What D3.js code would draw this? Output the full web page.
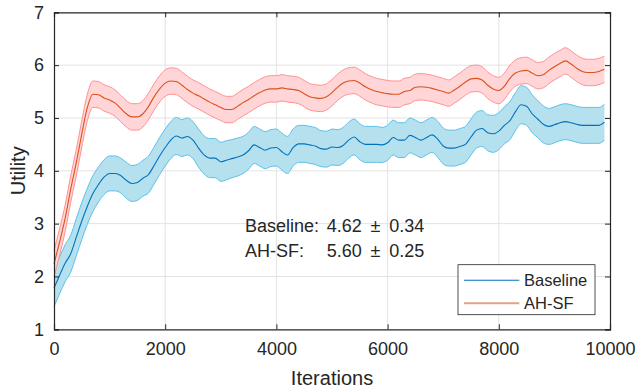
<!DOCTYPE html>
<html>
<head>
<meta charset="utf-8">
<script src="https://cdn.jsdelivr.net/npm/d3@7"></script>
<style>
  body { margin: 0; background: #fff; }
  svg text { font-family: "Liberation Sans", Arial, sans-serif; fill: #262626; }
</style>
</head>
<body>
<div id="chart"></div>
<script>
// iterations sampled every 100 steps
var iterations = d3.range(0, 10000, 100);

// Baseline mean / std
var baselineMean = [
  1.78, 2.02, 2.25, 2.43, 2.74, 3.05, 3.33, 3.57, 3.74, 3.88,
  3.95, 3.95, 3.91, 3.82, 3.76, 3.78, 3.86, 3.93, 4.10, 4.28,
  4.44, 4.58, 4.66, 4.62, 4.65, 4.58, 4.43, 4.30, 4.24, 4.24,
  4.17, 4.20, 4.23, 4.26, 4.30, 4.38, 4.49, 4.44, 4.39, 4.43,
  4.44, 4.36, 4.30, 4.44, 4.51, 4.51, 4.49, 4.47, 4.42, 4.41,
  4.45, 4.44, 4.48, 4.58, 4.64, 4.55, 4.50, 4.50, 4.50, 4.49,
  4.53, 4.63, 4.58, 4.58, 4.67, 4.63, 4.58, 4.63, 4.68, 4.60,
  4.47, 4.43, 4.43, 4.46, 4.50, 4.64, 4.77, 4.80, 4.72, 4.70,
  4.75, 4.86, 4.95, 5.12, 5.25, 5.22, 5.08, 4.98, 4.88, 4.84,
  4.87, 4.91, 4.93, 4.91, 4.88, 4.86, 4.86, 4.86, 4.86, 4.92
];
var baselineStd = [
  0.35, 0.35, 0.35, 0.35, 0.35, 0.35, 0.34, 0.34, 0.33, 0.33,
  0.33, 0.33, 0.33, 0.34, 0.34, 0.34, 0.34, 0.35, 0.35, 0.35,
  0.35, 0.35, 0.35, 0.35, 0.35, 0.35, 0.36, 0.36, 0.37, 0.37,
  0.37, 0.37, 0.36, 0.36, 0.35, 0.35, 0.35, 0.35, 0.35, 0.35,
  0.35, 0.35, 0.35, 0.35, 0.35, 0.35, 0.35, 0.35, 0.34, 0.34,
  0.34, 0.34, 0.34, 0.34, 0.34, 0.34, 0.34, 0.34, 0.34, 0.33,
  0.33, 0.33, 0.33, 0.33, 0.33, 0.33, 0.33, 0.33, 0.33, 0.34,
  0.34, 0.34, 0.34, 0.34, 0.34, 0.34, 0.34, 0.34, 0.34, 0.35,
  0.35, 0.35, 0.36, 0.36, 0.36, 0.36, 0.36, 0.35, 0.35, 0.34,
  0.34, 0.34, 0.34, 0.34, 0.34, 0.34, 0.34, 0.34, 0.34, 0.34
];

// AH-SF mean / std
var ahsfMean = [
  2.24, 2.65, 3.10, 3.65, 4.15, 4.70, 5.20, 5.45, 5.44, 5.38,
  5.34, 5.28, 5.18, 5.08, 5.02, 5.02, 5.08, 5.22, 5.40, 5.55,
  5.66, 5.70, 5.69, 5.62, 5.54, 5.47, 5.42, 5.36, 5.30, 5.25,
  5.20, 5.16, 5.16, 5.22, 5.29, 5.35, 5.42, 5.48, 5.53, 5.55,
  5.55, 5.57, 5.55, 5.54, 5.52, 5.46, 5.40, 5.38, 5.37, 5.40,
  5.48, 5.58, 5.66, 5.70, 5.71, 5.66, 5.59, 5.54, 5.50, 5.48,
  5.46, 5.45, 5.45, 5.50, 5.52, 5.58, 5.59, 5.58, 5.56, 5.53,
  5.50, 5.47, 5.53, 5.60, 5.68, 5.74, 5.75, 5.72, 5.62, 5.55,
  5.52, 5.60, 5.75, 5.85, 5.89, 5.90, 5.85, 5.80, 5.82, 5.90,
  5.97, 6.03, 6.08, 6.02, 5.94, 5.88, 5.86, 5.86, 5.88, 5.92
];
var ahsfStd = iterations.map(function () { return 0.25; });

var seriesNames = ["Baseline", "AH-SF"];
var xTicks = [0, 2000, 4000, 6000, 8000, 10000];
var yTicks = [1, 2, 3, 4, 5, 6, 7];
var summary = [
  { label: "Baseline:", mean: "4.62", std: "0.34" },
  { label: "AH-SF:", mean: "5.60", std: "0.25" }
];

var width = 636,
  height = 390,
  margin = { top: 12.3, right: 26, bottom: 60.7, left: 54 };
var plotW = width - margin.left - margin.right,
  plotH = height - margin.top - margin.bottom;

var x = d3.scaleLinear().domain([0, 10000]).range([0, plotW]);
var y = d3.scaleLinear().domain([1, 7]).range([plotH, 0]);

var svg = d3.select("#chart").append("svg")
  .attr("width", width)
  .attr("height", height);

var g = svg.append("g")
  .attr("transform", "translate(" + margin.left + "," + margin.top + ")");

// grid
g.append("g").selectAll("line").data(xTicks.slice(1, -1)).enter().append("line")
  .attr("x1", d => x(d)).attr("x2", d => x(d))
  .attr("y1", 0).attr("y2", plotH)
  .attr("stroke", "#e3e3e3");
g.append("g").selectAll("line").data(yTicks.slice(1, -1)).enter().append("line")
  .attr("y1", d => y(d)).attr("y2", d => y(d))
  .attr("x1", 0).attr("x2", plotW)
  .attr("stroke", "#e3e3e3");

var series = [
  { name: seriesNames[0], mean: baselineMean, std: baselineStd, fill: "#b5e1ef", edge: "#5cc0e9", line: "#0072bd" },
  { name: seriesNames[1], mean: ahsfMean, std: ahsfStd, fill: "#ffd5d7", edge: "#ff9191", line: "#d95319" }
];

var curve = d3.curveMonotoneX;

series.forEach(function (s) {
  var pts = iterations.map(function (it, i) {
    return { it: it, m: s.mean[i], sd: s.std[i] };
  });
  var area = d3.area().curve(curve)
    .x(d => x(d.it))
    .y0(d => y(d.m - d.sd))
    .y1(d => y(d.m + d.sd));
  g.append("path").datum(pts)
    .attr("d", area)
    .attr("fill", s.fill);
  [1, -1].forEach(function (sign) {
    g.append("path").datum(pts)
      .attr("d", d3.line().curve(curve).x(d => x(d.it)).y(d => y(d.m + sign * d.sd)))
      .attr("fill", "none")
      .attr("stroke", s.edge)
      .attr("stroke-width", 1);
  });
});

series.forEach(function (s) {
  g.append("path").datum(iterations.map((it, i) => [it, s.mean[i]]))
    .attr("d", d3.line().curve(curve).x(d => x(d[0])).y(d => y(d[1])))
    .attr("fill", "none")
    .attr("stroke", s.line)
    .attr("stroke-width", 1.1);
});

// axes box with inward ticks
var axisColor = "#262626";
var tickLen = 5;
var xAxisB = d3.axisBottom(x).tickValues(xTicks).tickSize(-tickLen).tickPadding(13).tickFormat(d3.format("d"));
var xAxisT = d3.axisTop(x).tickValues(xTicks).tickSize(-tickLen).tickFormat("");
var yAxisL = d3.axisLeft(y).tickValues(yTicks).tickSize(-tickLen).tickPadding(10).tickFormat(d3.format("d"));
var yAxisR = d3.axisRight(y).tickValues(yTicks).tickSize(-tickLen).tickFormat("");

function styleAxis(sel) {
  sel.select(".domain").attr("stroke", axisColor).attr("stroke-width", 1.2);
  sel.selectAll(".tick line").attr("stroke", axisColor);
  sel.selectAll(".tick text")
    .attr("fill", axisColor)
    .style("font-size", "18px")
    .style("font-family", "'Liberation Sans', Arial, sans-serif");
}

g.append("g").attr("transform", "translate(0," + plotH + ")").call(xAxisB).call(styleAxis);
g.append("g").call(xAxisT).call(styleAxis);
g.append("g").call(yAxisL).call(styleAxis);
g.append("g").attr("transform", "translate(" + plotW + ",0)").call(yAxisR).call(styleAxis);

// axis labels
svg.append("text")
  .attr("x", margin.left + plotW / 2)
  .attr("y", 385)
  .attr("text-anchor", "middle")
  .style("font-size", "20px")
  .text("Iterations");
svg.append("text")
  .attr("transform", "translate(25," + (margin.top + plotH / 2) + ") rotate(-90)")
  .attr("text-anchor", "middle")
  .style("font-size", "20px")
  .text("Utility");

// summary text
var sumText = svg.append("g").selectAll("text").data(summary).enter().append("text")
  .attr("y", (d, i) => 232 + i * 24.7)
  .style("font-size", "18px");
sumText.append("tspan").attr("x", 245).text(d => d.label);
sumText.append("tspan").attr("x", 326.7).text(d => d.mean);
sumText.append("tspan").attr("x", 370.5).text("\u00b1");
sumText.append("tspan").attr("x", 389.3).text(d => d.std);

// legend
var legend = svg.append("g").attr("transform", "translate(458,264.7)");
legend.append("rect")
  .attr("width", 137).attr("height", 50)
  .attr("fill", "#fff")
  .attr("stroke", axisColor)
  .attr("stroke-width", 0.8);
var legendColors = ["#0072bd", "#e99f82"];
var legendWidths = [1.1, 2];
var li = legend.selectAll(".item").data(seriesNames).enter().append("g")
  .attr("transform", (d, i) => "translate(0," + (15.5 + i * 23) + ")");
li.append("line")
  .attr("x1", 6).attr("x2", 61.3)
  .attr("stroke", (d, i) => legendColors[i])
  .attr("stroke-width", (d, i) => legendWidths[i]);
li.append("text")
  .attr("x", 66)
  .attr("dy", "0.36em")
  .style("font-size", "16.5px")
  .text(d => d);
</script>
</body>
</html>
